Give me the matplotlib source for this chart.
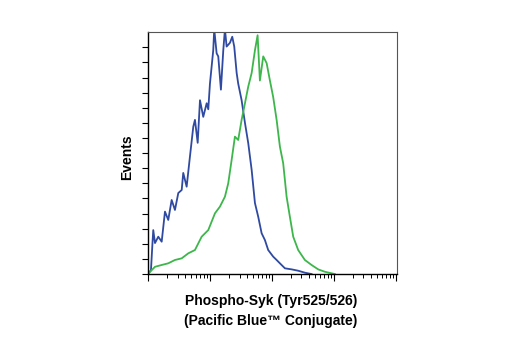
import numpy as np
import matplotlib.pyplot as plt
from matplotlib.ticker import LogLocator, NullFormatter

# Histogram traces: x as log10 of intensity, y as events
blue_log = [0.0, 0.048, 0.069, 0.085, 0.113, 0.166, 0.221, 0.274, 0.327, 0.382, 0.435,
            0.489, 0.544, 0.569, 0.624, 0.677, 0.731, 0.758, 0.802, 0.839, 0.892,
            0.947, 0.973, 1.0, 1.053, 1.069, 1.108, 1.134, 1.177, 1.215, 1.242,
            1.269, 1.323, 1.360, 1.392, 1.431, 1.456, 1.511, 1.565, 1.618, 1.673,
            1.726, 1.779, 1.834, 1.887, 1.940, 2.021, 2.076, 2.129, 2.210, 2.318,
            2.424, 2.532, 2.640]
blue_events = [0.0, 0.26, 1.81, 2.91, 2.05, 2.47, 2.14, 4.13, 3.58, 4.90, 4.24,
               5.36, 5.56, 6.69, 5.78, 7.77, 9.75, 10.2, 8.68, 11.5, 10.4,
               11.3, 10.9, 12.6, 14.8, 16.2, 14.6, 14.4, 12.2, 14.8, 16.2,
               15.05, 15.3, 15.7, 15.05, 13.3, 12.6, 11.5, 10.0, 8.66, 6.89,
               4.70, 3.79, 2.70, 2.25, 1.59, 1.15, 0.93, 0.71, 0.38, 0.31,
               0.22, 0.09, 0.0]

green_log = [0.0, 0.060, 0.113, 0.221, 0.327, 0.435, 0.544, 0.650, 0.758, 0.866,
             0.973, 1.081, 1.161, 1.242, 1.295, 1.350, 1.403, 1.456, 1.511, 1.565,
             1.618, 1.673, 1.726, 1.769, 1.806, 1.860, 1.915, 1.968, 2.021, 2.076,
             2.129, 2.182, 2.237, 2.290, 2.344, 2.424, 2.532, 2.640, 2.747, 2.855,
             3.016]
green_events = [0.0, 0.26, 0.48, 0.60, 0.71, 0.93, 1.04, 1.37, 1.59, 2.47,
                2.91, 4.02, 4.46, 5.12, 6.0, 7.55, 9.09, 8.87, 10.2, 11.3,
                12.4, 13.3, 14.8, 15.8, 12.8, 14.4, 13.95, 12.8, 11.7, 10.2,
                8.43, 7.33, 5.12, 3.79, 2.47, 1.59, 0.93, 0.60, 0.31, 0.15,
                0.0]

fig = plt.figure(figsize=(5.2, 3.5), dpi=100)
ax = fig.add_axes([0.2846, 0.217, 0.479, 0.691])

ax.plot(10 ** np.array(blue_log), blue_events, color='#2f4aa0', lw=1.3)
ax.plot(10 ** np.array(green_log), green_events, color='#3db64b', lw=1.3)

ax.set_xscale('log')
ax.set_xlim(1, 10 ** 4.02)
ax.set_ylim(0, 16)
ax.xaxis.set_major_locator(LogLocator(base=10, numticks=10))
ax.xaxis.set_minor_locator(LogLocator(base=10, subs=np.arange(2, 10), numticks=20))
ax.xaxis.set_major_formatter(NullFormatter())
ax.xaxis.set_minor_formatter(NullFormatter())
ax.set_yticks(np.arange(0, 16))
ax.set_yticklabels([])
ax.tick_params(axis='x', which='major', length=5, width=0.8, direction='out')
ax.tick_params(axis='x', which='minor', length=3, width=0.7, direction='out')
ax.tick_params(axis='y', length=4, width=0.8, direction='out')

for side in ['top', 'right']:
    ax.spines[side].set_color('#555555')
    ax.spines[side].set_linewidth(0.8)
for side in ['left', 'bottom']:
    ax.spines[side].set_color('black')
    ax.spines[side].set_linewidth(1.0)

label_font = ['Liberation Sans', 'DejaVu Sans']
fig.text(127 / 520, 1 - 157 / 350, 'Events', rotation=90, ha='center', va='center',
         fontsize=10, fontweight='bold', family=label_font)
fig.text(271 / 520, 1 - 311 / 350, 'Phospho-Syk (Tyr525/526)\n(Pacific Blue™ Conjugate)',
         ha='center', va='center', fontsize=10, fontweight='bold', family=label_font,
         linespacing=1.5)

fig.savefig('out.png', dpi=100)
